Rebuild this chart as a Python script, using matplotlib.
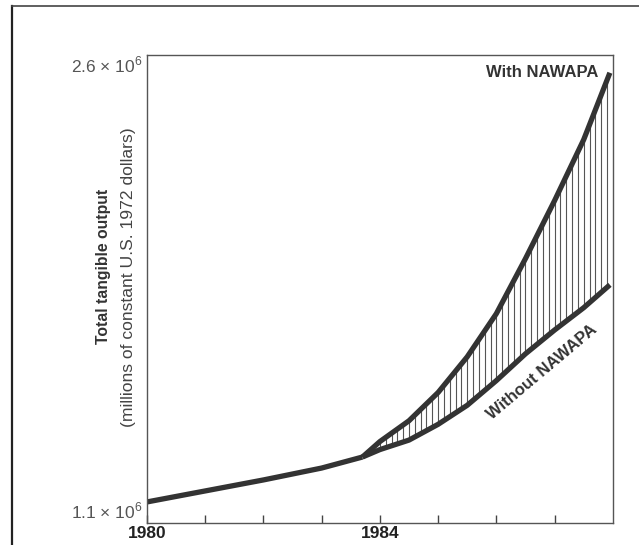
import matplotlib
matplotlib.use("Agg")
import matplotlib.pyplot as plt
import numpy as np
from matplotlib.lines import Line2D

plt.rcParams['font.family'] = ['Liberation Sans', 'DejaVu Sans']
plt.rcParams['mathtext.fontset'] = 'custom'
plt.rcParams['mathtext.rm'] = 'Liberation Sans'

# common path 1980 -> split point (values in millions of 1972 dollars)
base_years = [1980, 1981, 1982, 1983, 1983.7]
base_vals = [1.127, 1.164, 1.201, 1.241, 1.278]

# after the split
split_years = [1983.7, 1984, 1984.5, 1985, 1985.5, 1986, 1986.5, 1987, 1987.5, 1987.95]
with_nawapa = [1.278, 1.330, 1.400, 1.495, 1.615, 1.760, 1.945, 2.140, 2.345, 2.570]
without_nawapa = [1.278, 1.303, 1.335, 1.388, 1.452, 1.535, 1.625, 1.705, 1.780, 1.857]

xtick_years = [1980, 1981, 1982, 1983, 1984, 1985, 1986, 1987]
xtick_labels = ['1980', '', '', '', '1984', '', '', '']
ytick_vals = [1.1, 2.6]
ytick_labels = [r'1.1 $\times$ 10$^6$', r'2.6 $\times$ 10$^6$']

line_col = '#333333'

fig = plt.figure(figsize=(6.39, 5.45), dpi=100)
ax = fig.add_axes([0.230, 0.0404, 0.729, 0.859])

# hatching between the two branches
hx = np.arange(1983.8, 1987.95, 0.1)
lo = np.interp(hx, split_years, without_nawapa)
hi = np.interp(hx, split_years, with_nawapa)
ax.vlines(hx, lo, hi, color='#555555', lw=0.8)

ax.plot(base_years, base_vals, color=line_col, lw=3.8, solid_capstyle='butt')
ax.plot(split_years, with_nawapa, color=line_col, lw=3.8, solid_capstyle='butt')
ax.plot(split_years, without_nawapa, color=line_col, lw=3.8, solid_capstyle='butt')

ax.set_xlim(1980, 1988)
ax.set_ylim(1.1 - 13 / 446 * 1.5, 2.6 + 9 / 446 * 1.5)

ax.set_xticks(xtick_years)
ax.set_xticklabels(xtick_labels, fontsize=12.5, fontweight='bold', color='#222222')
ax.tick_params(axis='x', direction='in', length=6, width=1, color='#444444', pad=2)
ax.set_yticks(ytick_vals)
ax.set_yticklabels(ytick_labels, fontsize=12.5, color='#555555')
ax.tick_params(axis='y', length=0, pad=3)

for s in ax.spines.values():
    s.set_color('#555555')
    s.set_linewidth(1.0)

ax.text(0.968, 0.962, 'With NAWAPA', transform=ax.transAxes, ha='right', va='center',
        fontsize=12, fontweight='bold', color='#333333')
ax.text(0.848, 0.322, 'Without NAWAPA', transform=ax.transAxes, ha='center', va='center',
        fontsize=12, fontweight='bold', color='#333333', rotation=40, rotation_mode='anchor')

fig.text(0.162, 0.512, 'Total tangible output', rotation=90, ha='center', va='center',
         fontsize=11.3, fontweight='bold', color='#333333')
fig.text(0.201, 0.492, '(millions of constant U.S. 1972 dollars)', rotation=90, ha='center',
         va='center', fontsize=12.6, color='#444444')

# outer frame of the printed figure
fig.add_artist(Line2D([0.018, 0.018], [0.0, 0.989], transform=fig.transFigure, color='#222222', lw=1.6))
fig.add_artist(Line2D([0.018, 1.0], [0.989, 0.989], transform=fig.transFigure, color='#444444', lw=1.2))

fig.savefig('out.png', dpi=100)
